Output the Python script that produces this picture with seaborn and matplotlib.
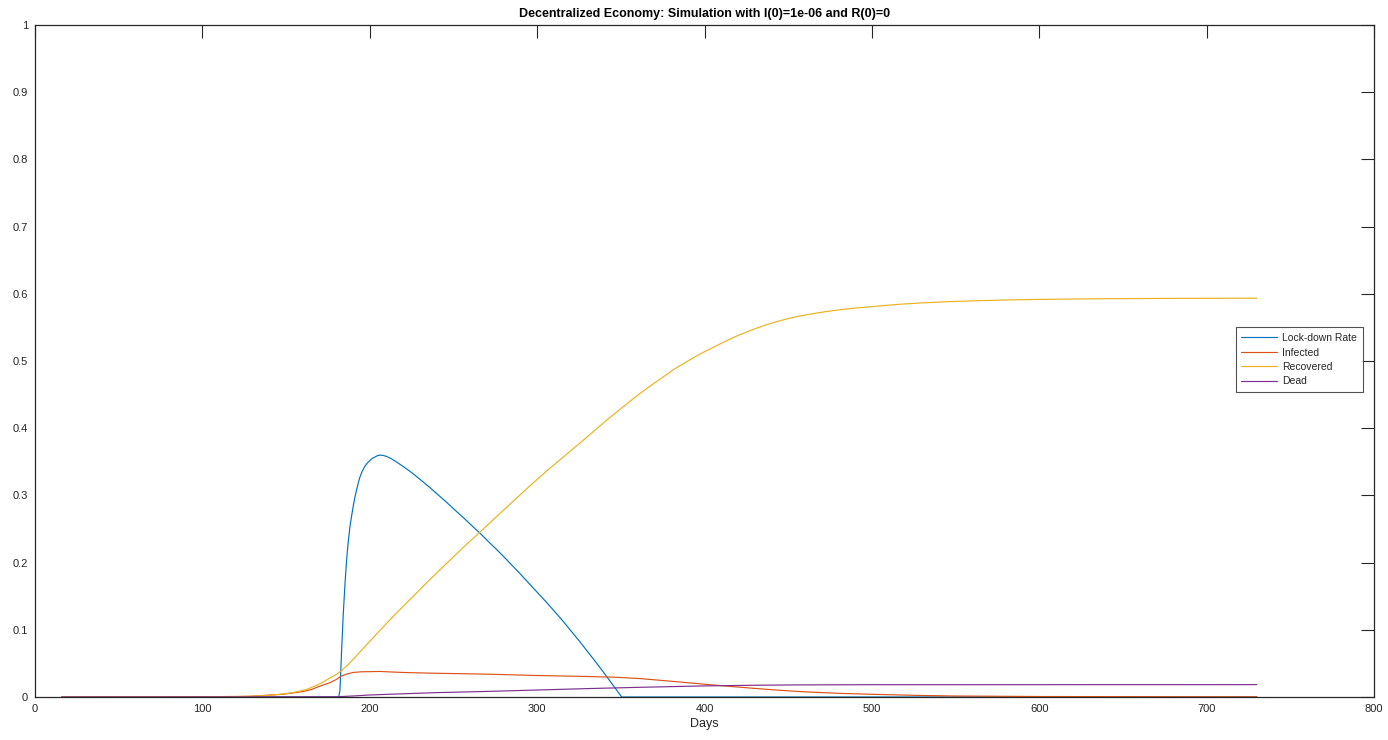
import numpy as np
import pandas as pd
import matplotlib
matplotlib.use("Agg")
import matplotlib.pyplot as plt
import seaborn as sns

# ---- data ----
lock_days = [16, 181.5, 182.2, 183.2, 184.2, 185.2, 186.2, 187.2, 188.2, 189.2, 190.2, 191.2, 192.2, 193.2,
             194.1, 195.5, 197, 198.5, 200.1, 201.5, 203, 204.5, 206.1, 208, 210, 213, 216.1, 220, 225, 230,
             236, 241, 246, 251, 255.9, 261, 266.8, 271, 275.8, 280, 285, 290, 295.7, 300, 305, 310, 315.6,
             320, 325, 330, 335.5, 340, 343, 347, 350.5, 730]
lock_vals = [0, 0, 0.01, 0.07, 0.1245, 0.168, 0.205, 0.232, 0.254, 0.270, 0.285, 0.298, 0.309, 0.319,
             0.327, 0.336, 0.343, 0.348, 0.352, 0.355, 0.357, 0.359, 0.360, 0.3595, 0.358, 0.3545, 0.3495,
             0.343, 0.334, 0.324, 0.3115, 0.3005, 0.2895, 0.278, 0.267, 0.255, 0.2415, 0.231, 0.2195, 0.209,
             0.196, 0.183, 0.1675, 0.156, 0.1425, 0.1285, 0.1125, 0.099, 0.084, 0.068, 0.0505, 0.0357,
             0.0255, 0.012, 0.0, 0.0]

inf_days = [16, 100, 128, 148, 160, 165, 170, 176, 180, 183, 186, 190, 195, 206, 220, 236, 270, 300, 330,
            346, 361, 380, 400, 415, 430, 445, 459, 480, 500, 525, 549, 600, 730]
inf_vals = [0, 0.0003, 0.001, 0.004, 0.008, 0.011, 0.016, 0.021, 0.026, 0.031, 0.034, 0.0365, 0.0375,
            0.038, 0.0365, 0.0355, 0.034, 0.032, 0.0305, 0.0295, 0.0275, 0.0235, 0.019, 0.0158, 0.0128,
            0.010, 0.0078, 0.0055, 0.004, 0.0025, 0.0015, 0.0007, 0.0003]

rec_days = [16, 60, 100, 120, 130, 140, 150, 156, 162, 168, 172, 176, 180, 183, 187, 191, 196, 206, 216,
            226, 236, 246, 256, 267, 276, 286, 296, 306, 317, 327.5, 335, 343, 351, 359, 366, 374, 382, 390,
            397, 405, 413, 420, 428, 435, 443, 450, 458, 466, 473, 481, 489, 496, 507, 517, 530, 545, 560,
            576, 600, 636, 680, 730]
rec_vals = [0, 0, 0.0001, 0.0005, 0.0012, 0.0025, 0.005, 0.0075, 0.011, 0.017, 0.022, 0.028, 0.0335, 0.039,
            0.048, 0.0585, 0.072, 0.099, 0.125, 0.150, 0.175, 0.199, 0.223, 0.248, 0.269, 0.292, 0.315,
            0.337, 0.360, 0.382, 0.398, 0.415, 0.431, 0.447, 0.460, 0.474, 0.488, 0.500, 0.510, 0.520,
            0.530, 0.538, 0.546, 0.5523, 0.5585, 0.5631, 0.5675, 0.571, 0.5737, 0.5763, 0.5785, 0.580,
            0.5825, 0.5845, 0.5865, 0.5882, 0.5895, 0.5906, 0.5917, 0.5926, 0.5932, 0.5935]

dead_days = [16, 180, 190, 200, 220, 240, 270, 300, 330, 361, 400, 430, 454, 500, 730]
dead_vals = [0, 0.0003, 0.0015, 0.003, 0.0048, 0.0065, 0.0083, 0.0104, 0.0125, 0.0144, 0.0165, 0.0175,
             0.018, 0.0183, 0.0184]

series_names = ["Lock-down Rate", "Infected", "Recovered", "Dead"]
title_text = "Decentralized Economy: Simulation with I(0)=1e-06 and R(0)=0"
x_ticks = [0, 100, 200, 300, 400, 500, 600, 700, 800]
y_ticks = [0, 0.1, 0.2, 0.3, 0.4, 0.5, 0.6, 0.7, 0.8, 0.9, 1]
y_tick_labels = ["0", "0.1", "0.2", "0.3", "0.4", "0.5", "0.6", "0.7", "0.8", "0.9", "1"]

frames = []
for name, d, v in zip(series_names, [lock_days, inf_days, rec_days, dead_days],
                      [lock_vals, inf_vals, rec_vals, dead_vals]):
    frames.append(pd.DataFrame({"Days": d, "Value": v, "Series": name}))
df = pd.concat(frames, ignore_index=True)

# ---- styling ----
sns.set_theme(style="white")
plt.rcParams["font.family"] = ["Liberation Sans", "DejaVu Sans"]
plt.rcParams["xtick.direction"] = "in"
plt.rcParams["ytick.direction"] = "in"

palette = {"Lock-down Rate": "#0072BD", "Infected": "#D95319",
           "Recovered": "#EDB120", "Dead": "#7E2F8E"}

fig = plt.figure(figsize=(13.88, 7.40), dpi=100)
ax = fig.add_axes([35 / 1388, 43 / 740, 1339 / 1388, 672 / 740])

sns.lineplot(data=df, x="Days", y="Value", hue="Series", hue_order=series_names,
             palette=palette, sort=False, estimator=None, linewidth=0.85, ax=ax)

ax.set_xlim(0, 800)
ax.set_ylim(0, 1)
ax.set_xticks(x_ticks)
ax.set_xticklabels([str(t) for t in x_ticks])
ax.set_yticks(y_ticks)
ax.set_yticklabels(y_tick_labels)

edge = "#262626"
for s in ax.spines.values():
    s.set_visible(True)
    s.set_color(edge)
    s.set_linewidth(0.9)
ax.tick_params(axis="both", which="major", direction="in", length=9.4, width=0.8,
               color=edge, labelcolor=edge, labelsize=8, top=True, right=True,
               labeltop=False, labelright=False, pad=5)

ax.set_xlabel("Days", fontsize=9, color=edge, labelpad=3)
ax.set_ylabel("")
ax.set_title(title_text, fontsize=9, fontweight="bold", color="black", pad=6)

leg = ax.legend(loc="upper right", bbox_to_anchor=(0.9915, 0.55), fontsize=7.5,
                frameon=True, fancybox=False, handlelength=3.4, borderpad=0.55,
                labelspacing=0.42, handletextpad=0.5, borderaxespad=0)
leg.get_frame().set_edgecolor(edge)
leg.get_frame().set_linewidth(0.8)
leg.set_title(None)

fig.savefig("out.png", dpi=100, facecolor="white")
